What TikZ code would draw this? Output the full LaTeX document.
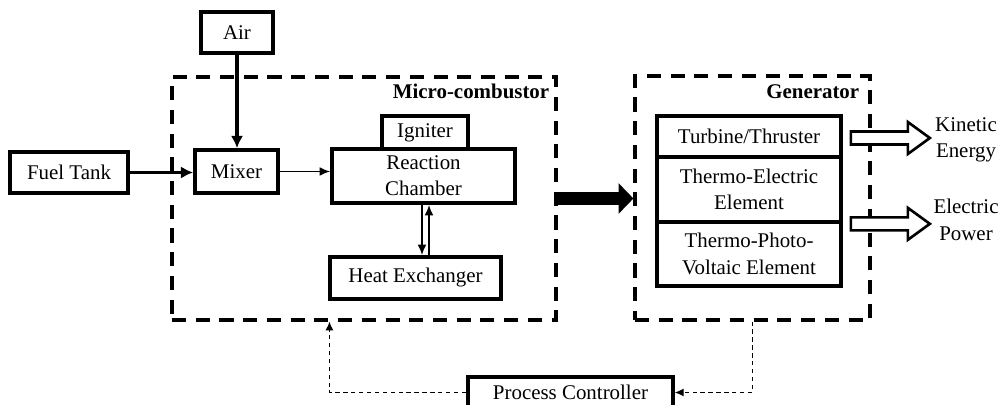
\documentclass[tikz,border=0pt]{standalone}
\usepackage{fontspec}
\setmainfont{Liberation Serif}
\usetikzlibrary{arrows.meta,calc}

\begin{document}
\begin{tikzpicture}[x=0.02cm,y=-0.02cm,
  font=\fontsize{11.9}{15}\selectfont,
  blk/.style={draw,line width=2.1pt,inner sep=0pt,align=center,fill=white},
  grp/.style={draw,line width=1.8pt,dash pattern=on 8pt off 5.5pt,inner sep=0pt},
  grplabel/.style={font=\fontsize{11.9}{15}\selectfont\bfseries,anchor=east,inner sep=0pt},
  thickarr/.style={line width=1.8pt,-{Latex[length=7pt,width=7pt]}},
  thinarr/.style={line width=0.9pt,-{Latex[length=6pt,width=5pt]}},
  ctrl/.style={line width=0.6pt,dash pattern=on 2.5pt off 2pt,-{Latex[length=5pt,width=4.5pt]}},
  hollow/.style={draw,line width=1.5pt,fill=white,line join=miter},
  power/.style={line width=7.6pt,-{Triangle[length=8.5pt,width=17pt]}},
  lbl/.style={align=center,inner sep=0pt},
]
\useasboundingbox (0,0) rectangle (1000,405);

% dashed group frames
\node[grp,minimum width=7.68cm,minimum height=4.86cm] (comb) at (364,198.5) {};
\node[grplabel] (combl) at ($(comb.north east)+(-8,16)$) {Micro-combustor};
\node[grp,minimum width=4.70cm,minimum height=4.88cm] (gen) at (752.5,198) {};
\node[grplabel] (genl) at ($(gen.north east)+(-12,17)$) {Generator};

% supply side
\node[blk,minimum width=1.44cm,minimum height=0.82cm] (air) at (237,32.5) {Air};
\node[blk,minimum width=2.36cm,minimum height=0.82cm] (fuel) at (69,172.5) {Fuel Tank};
\node[blk,minimum width=1.66cm,minimum height=0.86cm] (mixer) at (236.5,171.5) {Mixer};

% combustor internals
\node[blk,minimum width=1.72cm,minimum height=0.66cm] (ign) at (425,132.5) {Igniter};
\node[blk,minimum width=3.66cm,minimum height=1.08cm] (rc) at (423.5,176) {Reaction\\Chamber};
\node[blk,minimum width=3.42cm,minimum height=0.84cm] (he) at (415.5,278) {Heat Exchanger};

% generator stack
\node[blk,minimum width=3.68cm,minimum height=0.82cm] (turb) at (749,136.5) {Turbine/Thruster};
\node[blk,minimum width=3.68cm,minimum height=1.30cm] (te) at (749,189.5) {Thermo-Electric\\Element};
\node[blk,minimum width=3.68cm,minimum height=1.28cm] (tpv) at (749,254) {Thermo-Photo-\\Voltaic Element};

% controller
\node[blk,minimum width=4.10cm,minimum height=0.62cm] (pc) at (570.5,392.5) {Process Controller};

% outputs
\node[lbl] (kin) at (966,140) {Kinetic\\Energy};
\node[lbl] (ele) at (966,220) {Electric\\Power};

% flows
\draw[thickarr] (air.south) -- (air.south |- mixer.north);
\draw[thickarr] (fuel.east) -- (fuel.east -| mixer.west);
\draw[thinarr] (mixer.east) -- (mixer.east -| rc.west);
\coordinate (dn) at ($(rc.south)+(-1.5,0)$);
\coordinate (up) at ($(rc.south)+(5.5,0)$);
\draw[thinarr] (dn) -- (dn |- he.north);
\draw[thinarr] (up |- he.north) -- (up);
\draw[power] (comb.east) -- (comb.east -| gen.west);

% hollow output arrows
\coordinate (ka) at ($(turb.east)+(8,1.5)$);
\coordinate (kb) at ($(turb.east)+(87,1.5)$);
\coordinate (ea) at ($(te.south east)+(8,0)$);
\coordinate (eb) at ($(te.south east)+(87,0)$);
\foreach \s/\t in {ka/kb,ea/eb}{
  \draw[hollow] ($(\s)+(0,-6.5)$) -- ($(\t)+(-22,-6.5)$) -- ($(\t)+(-22,-16)$) -- (\t)
    -- ($(\t)+(-22,16)$) -- ($(\t)+(-22,6.5)$) -- ($(\s)+(0,6.5)$) -- cycle;
}

% control loop
\draw[ctrl] (pc.west) -| ($(comb.south west)+(159,0)$);
\draw[ctrl] (gen.south) |- (pc.east);
\end{tikzpicture}
\end{document}
